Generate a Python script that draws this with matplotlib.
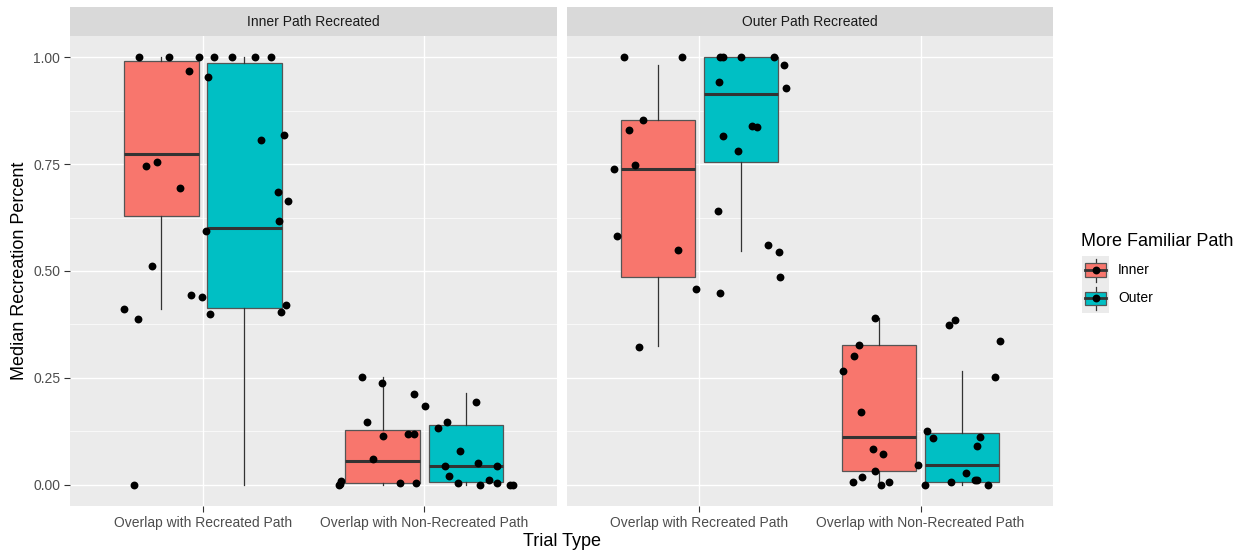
import numpy as np
import matplotlib.pyplot as plt
from matplotlib.patches import Rectangle

plt.rcParams['font.family'] = ['Liberation Sans', 'DejaVu Sans']

# ---- data ----
categories = ['Overlap with Recreated Path', 'Overlap with Non-Recreated Path']
panels = ['Inner Path Recreated', 'Outer Path Recreated']
groups = ['Inner', 'Outer']
group_colors = ['#F8766D', '#00BFC4']

# box stats per category: [whislo, q1, median, q3, whishi]
inner_panel_inner_box = [[0.411, 0.628, 0.775, 0.991, 1.0], [0.0, 0.004, 0.055, 0.129, 0.252]]
inner_panel_outer_box = [[0.0, 0.414, 0.600, 0.986, 1.0], [0.0, 0.0055, 0.044, 0.140, 0.214]]
outer_panel_inner_box = [[0.324, 0.486, 0.739, 0.854, 0.982], [0.0, 0.031, 0.111, 0.326, 0.391]]
outer_panel_outer_box = [[0.546, 0.756, 0.915, 1.0, 1.0], [0.0, 0.0055, 0.047, 0.121, 0.267]]

# jittered raw points: horizontal jitter (category units) and value
inner_rec_jitter = [-0.290, -0.155, -0.019, 0.051, 0.130, 0.236, 0.308, -0.065, 0.021, -0.259,
                    -0.209, -0.103, 0.262, 0.364, 0.340, 0.383, 0.343, 0.014, -0.230, -0.053,
                    -0.006, -0.354, -0.295, 0.030, 0.374, 0.352, -0.313]
inner_rec_values = [1.0, 1.0, 1.0, 1.0, 1.0, 1.0, 1.0, 0.968, 0.953, 0.745,
                    0.754, 0.694, 0.807, 0.818, 0.685, 0.664, 0.618, 0.594, 0.512, 0.444,
                    0.440, 0.410, 0.388, 0.399, 0.420, 0.405, 0.0]
inner_non_jitter = [-0.281, -0.191, -0.047, 0.003, -0.257, -0.187, -0.072, -0.045, -0.232, -0.381,
                    -0.376, -0.384, -0.108, -0.039, 0.235, 0.103, 0.061, 0.160, 0.093, 0.243,
                    0.326, 0.110, 0.292, 0.152, 0.252, 0.326, 0.386, 0.401]
inner_non_values = [0.252, 0.239, 0.213, 0.183, 0.147, 0.115, 0.119, 0.119, 0.059, 0.002,
                    0.009, 0.0, 0.004, 0.004, 0.194, 0.147, 0.132, 0.079, 0.044, 0.050,
                    0.044, 0.020, 0.012, 0.004, 0.0, 0.004, 0.0, 0.0]
outer_rec_jitter = [-0.341, -0.080, -0.254, -0.320, -0.290, -0.387, -0.373, -0.098, -0.015, -0.275,
                    0.094, 0.105, 0.190, 0.339, 0.384, 0.393, 0.089, 0.238, 0.261, 0.108,
                    0.174, 0.084, 0.311, 0.360, 0.364, 0.093]
outer_rec_values = [1.0, 1.0, 0.854, 0.830, 0.749, 0.738, 0.582, 0.549, 0.458, 0.322,
                    1.0, 1.0, 1.0, 1.0, 0.982, 0.929, 0.942, 0.840, 0.837, 0.817,
                    0.780, 0.640, 0.561, 0.544, 0.487, 0.448]
outer_non_jitter = [-0.207, -0.278, -0.302, -0.353, -0.270, -0.216, -0.170, -0.010, -0.207, -0.266,
                    -0.307, -0.179, -0.142, 0.155, 0.130, 0.357, 0.337, 0.031, 0.056, 0.270,
                    0.254, 0.205, 0.139, 0.247, 0.254, 0.304, 0.018]
outer_non_values = [0.391, 0.326, 0.300, 0.267, 0.170, 0.083, 0.072, 0.046, 0.031, 0.019,
                    0.0055, 0.0, 0.0055, 0.386, 0.373, 0.337, 0.253, 0.126, 0.108, 0.111,
                    0.091, 0.027, 0.0055, 0.010, 0.010, 0.0, 0.0]

y_ticks = [0.0, 0.25, 0.5, 0.75, 1.0]
y_tick_labels = ['0.00', '0.25', '0.50', '0.75', '1.00']

panel_boxes = [[inner_panel_inner_box, inner_panel_outer_box],
               [outer_panel_inner_box, outer_panel_outer_box]]
panel_points = [[(inner_rec_jitter, inner_rec_values), (inner_non_jitter, inner_non_values)],
                [(outer_rec_jitter, outer_rec_values), (outer_non_jitter, outer_non_values)]]

# ---- layout (pixel based) ----
W, H = 1245, 555
fig = plt.figure(figsize=(W / 100, H / 100), dpi=100)
fig.patch.set_facecolor('white')


def frac(x0, y0, x1, y1):
    return [x0 / W, 1 - y1 / H, (x1 - x0) / W, (y1 - y0) / H]


panel_x = [(70, 557.3), (566.7, 1053.3)]
panel_top, panel_bottom, strip_top = 36, 506, 7.3

grey_text = '#4D4D4D'
dodge = 0.1875
box_w = 0.3375
pt_size = 32

for p, (x0, x1) in enumerate(panel_x):
    ax = fig.add_axes(frac(x0, panel_top, x1, panel_bottom))
    ax.set_facecolor('#EBEBEB')
    for s in ax.spines.values():
        s.set_visible(False)
    ax.set_xlim(0.4, 2.6)
    ax.set_ylim(-0.05, 1.05)

    # grid
    for yv in [0.125, 0.375, 0.625, 0.875]:
        ax.axhline(yv, color='white', lw=0.5, zorder=0)
    for yv in y_ticks:
        ax.axhline(yv, color='white', lw=1.0, zorder=0)
    for xv in [1, 2]:
        ax.axvline(xv, color='white', lw=1.0, zorder=0)

    # boxes
    for g in range(2):
        stats = []
        for c in range(2):
            lo, q1, med, q3, hi = panel_boxes[p][g][c]
            stats.append(dict(whislo=lo, q1=q1, med=med, q3=q3, whishi=hi, fliers=[]))
        pos = [c + 1 + (g * 2 - 1) * dodge for c in range(2)]
        ax.bxp(stats, positions=pos, widths=box_w, patch_artist=True,
               showcaps=False, manage_ticks=False,
               boxprops=dict(facecolor=group_colors[g], edgecolor='#555555', lw=0.9),
               whiskerprops=dict(color='#333333', lw=0.9),
               medianprops=dict(color='#333333', lw=2.2, solid_capstyle='butt'),
               zorder=2)

    # jittered points
    for c in range(2):
        jit, vals = panel_points[p][c]
        ax.scatter(c + 1 + np.array(jit), vals, s=pt_size, color='black', zorder=3, linewidths=0)

    ax.set_xticks([1, 2])
    ax.set_xticklabels(categories, fontsize=10, color=grey_text)
    ax.tick_params(axis='x', length=4, width=0.8, color='#333333', pad=3)
    if p == 0:
        ax.set_yticks(y_ticks)
        ax.set_yticklabels(y_tick_labels, fontsize=10, color=grey_text)
        ax.tick_params(axis='y', length=4, width=0.8, color='#333333', pad=3)
    else:
        ax.set_yticks([])

    # facet strip
    sax = fig.add_axes(frac(x0, strip_top, x1, panel_top))
    sax.set_facecolor('#D9D9D9')
    sax.set_xticks([])
    sax.set_yticks([])
    for s in sax.spines.values():
        s.set_visible(False)
    sax.text(0.5, 0.5, panels[p], ha='center', va='center', fontsize=10, color='#1A1A1A',
             transform=sax.transAxes)

# axis titles
fig.text(561.7 / W, 1 - 541 / H, 'Trial Type', ha='center', va='center', fontsize=13)
fig.text(20 / W, 1 - 271 / H, 'Median Recreation Percent', ha='center', va='center',
         rotation=90, fontsize=13)

# legend
fig.text(1081 / W, 1 - 241 / H, 'More Familiar Path', ha='left', va='center', fontsize=13)
key_h = 28.3
for g in range(2):
    ky0 = 256 + g * key_h
    kax = fig.add_axes(frac(1081.7, ky0, 1109.3, ky0 + key_h))
    kax.set_facecolor('#EBEBEB')
    kax.set_xlim(0, 1)
    kax.set_ylim(0, 1)
    kax.set_xticks([])
    kax.set_yticks([])
    for s in kax.spines.values():
        s.set_visible(False)
    kax.plot([0.5, 0.5], [0.09, 0.91], color='#333333', lw=0.9)
    kax.add_patch(Rectangle((0.12, 0.26), 0.76, 0.48, facecolor=group_colors[g],
                            edgecolor='#555555', lw=0.9, zorder=2))
    kax.plot([0.12, 0.88], [0.5, 0.5], color='#333333', lw=2.0, zorder=3)
    kax.scatter([0.5], [0.5], s=pt_size, color='black', zorder=4, linewidths=0)
    fig.text(1118 / W, 1 - (ky0 + key_h / 2) / H, groups[g], ha='left', va='center', fontsize=10)

fig.savefig('out.png', dpi=100)
